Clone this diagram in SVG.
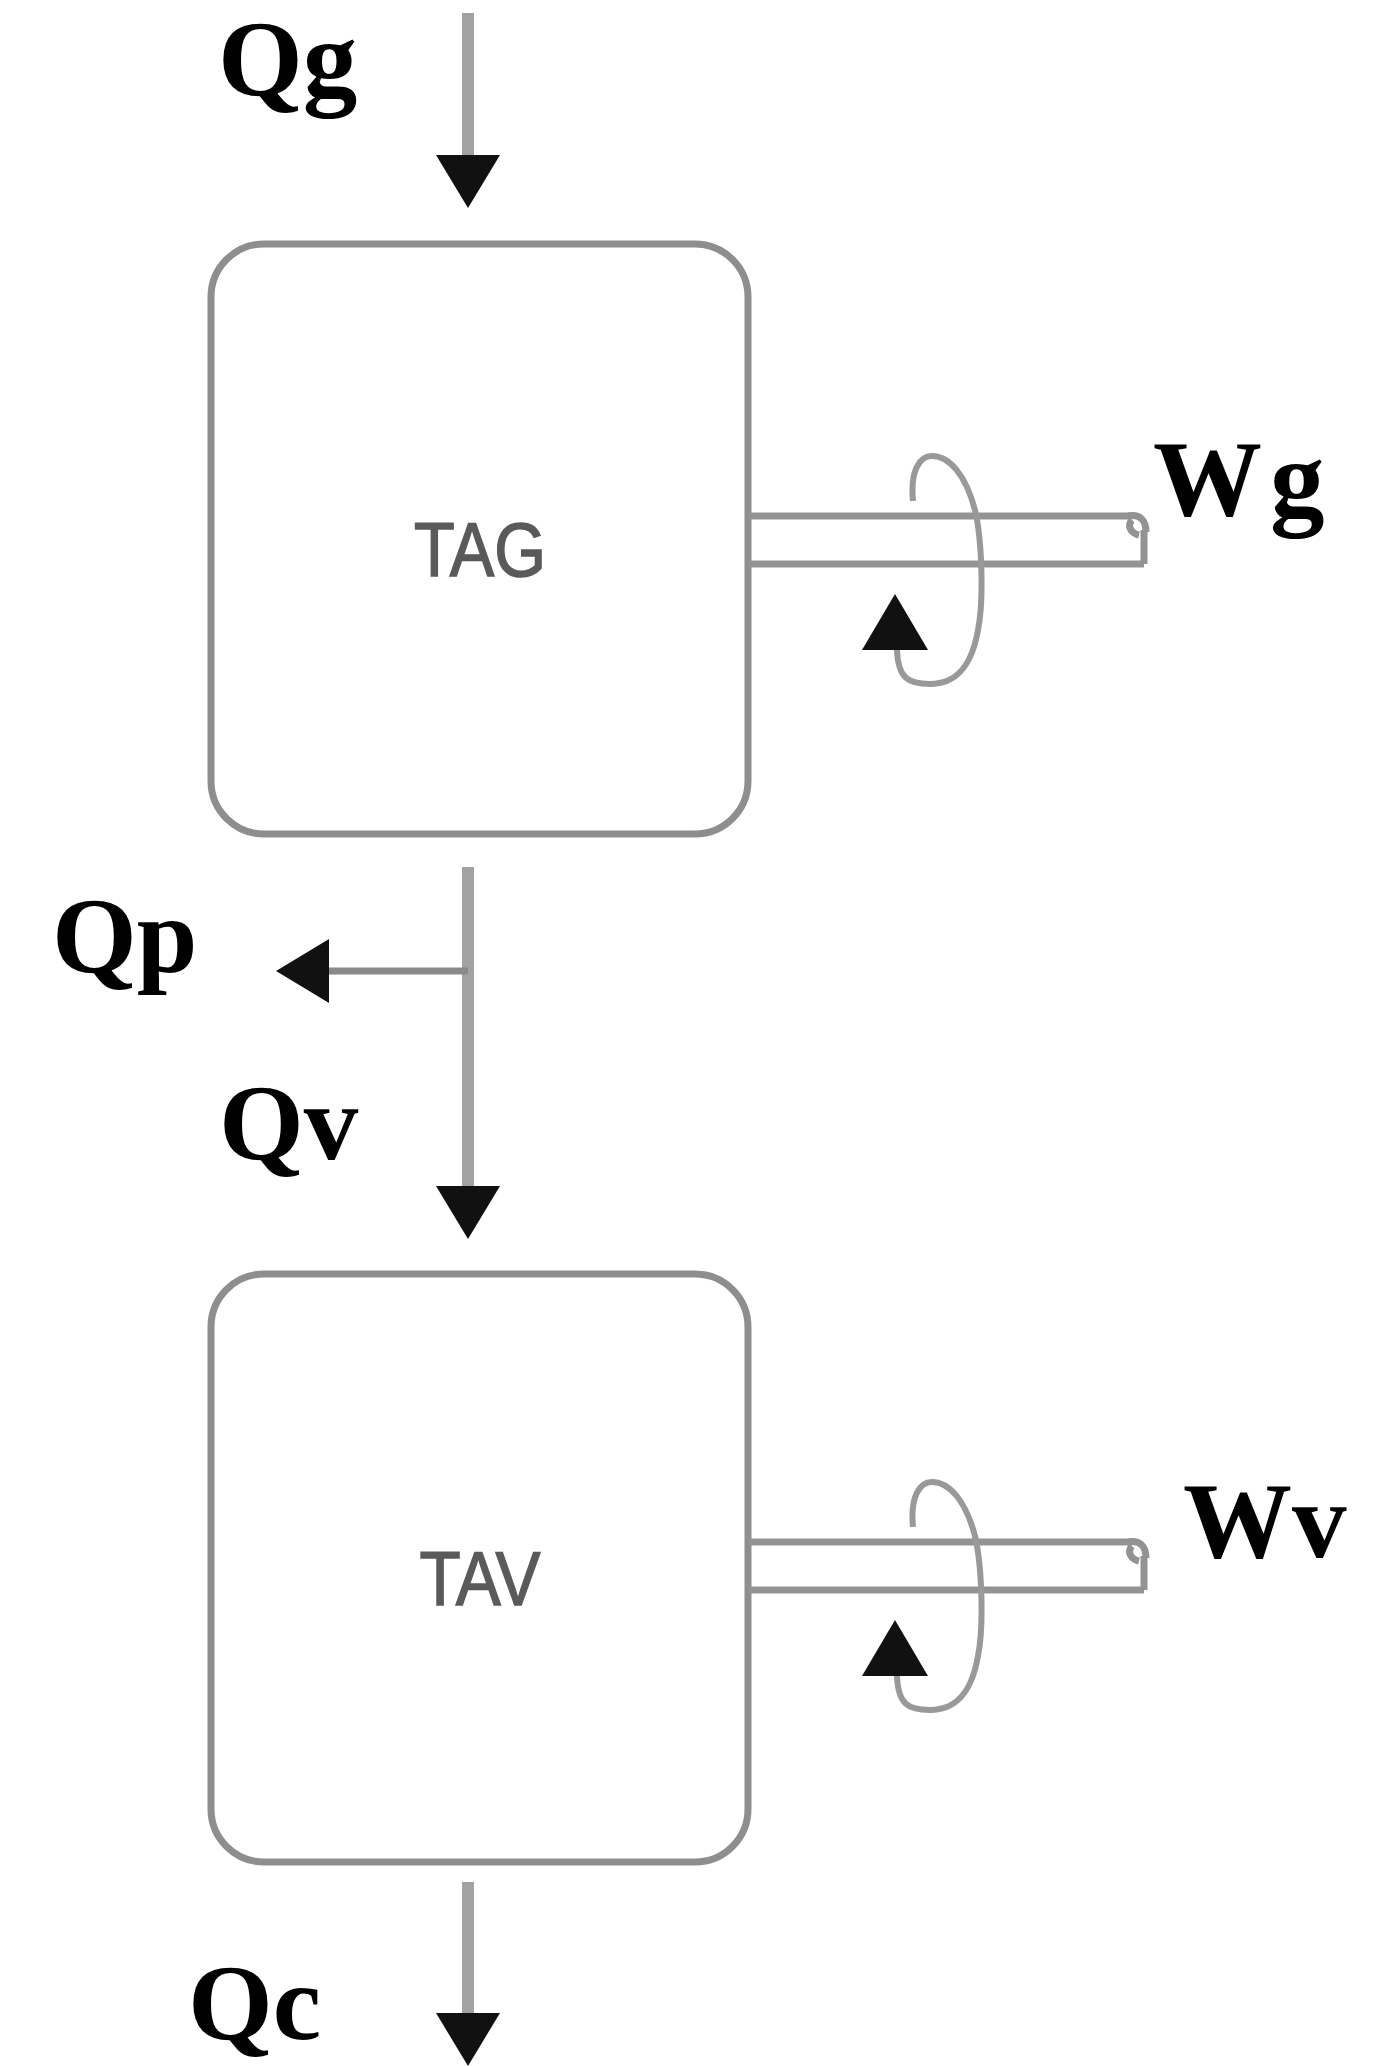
<svg xmlns="http://www.w3.org/2000/svg" width="1373" height="2066" viewBox="0 0 1373 2066">
<style>
.box{fill:#fff;stroke:#8e8e8e;stroke-width:7}
.lbl{font-family:"Liberation Serif","Times New Roman",serif;font-weight:bold;font-size:109px;fill:#000}
.nm{font-family:"Liberation Sans",Arial,sans-serif;font-size:76px;fill:#5a5a5a;stroke:#5a5a5a;stroke-width:1.5;text-anchor:middle}
.flow{fill:none;stroke:#a2a2a2;stroke-width:12}
.branch{fill:none;stroke:#8a8a8a;stroke-width:7}
.shaft{fill:none;stroke:#939393;stroke-width:7}
.loop{fill:none;stroke:#999;stroke-width:6}
.head{fill:#111}
</style>
<defs>
<marker id="ah" markerUnits="userSpaceOnUse" markerWidth="53" markerHeight="64" viewBox="0 0 53 64" refX="0" refY="32" orient="auto">
<path d="M0,0 L53,32 L0,64 Z" fill="#111"/>
</marker>
</defs>
<g id="connectors">
<line class="flow" x1="468" y1="13" x2="468" y2="155" marker-end="url(#ah)"/>
<line class="flow" x1="468" y1="867" x2="468" y2="1186" marker-end="url(#ah)"/>
<line class="branch" x1="468" y1="971" x2="329" y2="971" marker-end="url(#ah)"/>
<line class="flow" x1="468" y1="1882" x2="468" y2="2013" marker-end="url(#ah)"/>
</g>
<g id="TAG">
<rect class="box" x="211" y="244" width="537" height="590" rx="53" ry="53"/>
<text class="nm" x="480" y="576" textLength="132" lengthAdjust="spacingAndGlyphs">TAG</text>
</g>
<g id="shaft-Wg">
<path class="shaft" d="M748,516 H1132 M748,564 H1144 M1144,530 V564"/>
<path class="shaft" d="M1128,516 C1140,514 1146,520 1146,532"/>
<path class="shaft" d="M1132,520 C1127,525 1130,533 1139,535"/>
<path class="loop" d="M913,501 C910,470 920,456 932,456 C950,456 966,476 975,510 C982,540 984,600 978,630 C972,664 958,684 930,684 C908,684 898,678 897,650"/>
<polygon class="head" points="895,594 928,650 862,650"/>
</g>
<g id="TAV">
<rect class="box" x="211" y="1274" width="537" height="588" rx="53" ry="53"/>
<text class="nm" x="480" y="1605" textLength="121" lengthAdjust="spacingAndGlyphs">TAV</text>
</g>
<g id="shaft-Wv" transform="translate(0,1026)">
<path class="shaft" d="M748,516 H1132 M748,564 H1144 M1144,530 V564"/>
<path class="shaft" d="M1128,516 C1140,514 1146,520 1146,532"/>
<path class="shaft" d="M1132,520 C1127,525 1130,533 1139,535"/>
<path class="loop" d="M913,501 C910,470 920,456 932,456 C950,456 966,476 975,510 C982,540 984,600 978,630 C972,664 958,684 930,684 C908,684 898,678 897,650"/>
<polygon class="head" points="895,594 928,650 862,650"/>
</g>
<g id="labels">
<text class="lbl" x="218" y="95">Qg</text>
<text class="lbl" x="1153" y="515">W<tspan dx="8">g</tspan></text>
<text class="lbl" x="52" y="972">Qp</text>
<text class="lbl" x="219" y="1159">Qv</text>
<text class="lbl" x="1183" y="1557">Wv</text>
<text class="lbl" x="188" y="2039">Qc</text>
</g>
</svg>
